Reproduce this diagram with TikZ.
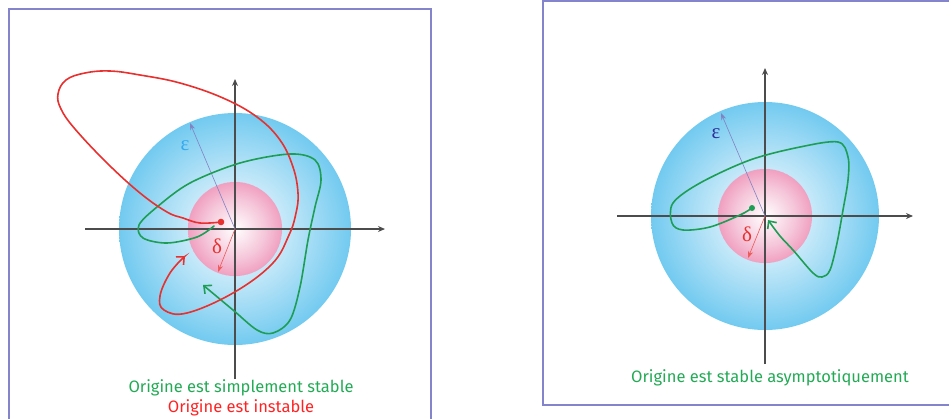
\documentclass[tikz,border=0pt]{standalone}
\usepackage{fontspec}
\usepackage{tikz}
\usetikzlibrary{arrows.meta}

\newfontfamily\captionfont{Fira Sans}
\newfontfamily\greekfont{Liberation Serif}

\definecolor{framecol}{HTML}{8484CC}
\definecolor{skyedge}{HTML}{72CAF0}
\definecolor{skymid}{HTML}{ACDFF6}
\definecolor{pinkedge}{HTML}{F0A0C0}
\definecolor{pinkmid}{HTML}{F5C6D9}
\definecolor{curvegreen}{HTML}{1E9E55}
\definecolor{curvered}{HTML}{E8302E}
\definecolor{textgreen}{HTML}{22AA55}
\definecolor{textred}{HTML}{FF2222}
\definecolor{epsnavy}{HTML}{2E2E9A}
\definecolor{epslight}{HTML}{33AAEE}

\pgfdeclareradialshading{bluesphere}{\pgfpoint{0bp}{0bp}}{%
  color(0bp)=(white); color(3bp)=(white!80!skymid); color(15bp)=(skymid);
  color(25bp)=(skyedge); color(50bp)=(skyedge)}
\pgfdeclareradialshading{pinksphere}{\pgfpoint{0bp}{0bp}}{%
  color(0bp)=(white); color(4bp)=(white!75!pinkmid); color(16bp)=(pinkmid);
  color(25bp)=(pinkedge); color(50bp)=(pinkedge)}

\tikzset{
  frame/.style={draw=framecol, line width=2pt},
  axis/.style={draw=black!70, line width=1.3pt, -{Stealth[length=7pt,width=6pt]}},
  epsarrow/.style={draw=epsnavy!60, line width=0.6pt, -{Stealth[length=7pt,width=5pt]}},
  deltaarrow/.style={draw=curvered!80, line width=0.6pt, -{Stealth[length=7pt,width=5pt]}},
  greeklabel/.style={font=\greekfont\fontsize{21}{23}\selectfont},
  traj/.style={line width=1.6pt, line cap=round},
  trajtip/.style={-{Straight Barb[length=6pt,width=11pt,line width=1.6pt]}},
  caption/.style={font=\captionfont\fontsize{16.5}{19}\selectfont}
}

\begin{document}
\begin{tikzpicture}[x=1pt, y=-1pt, >=stealth]
	\useasboundingbox (0,0) rectangle (949,418);

	% Frames
	\draw[frame] (8.5,9) rectangle (431,440);
	\draw[frame] (543,0.5) rectangle (970,405);

	% ---------- Left panel: simple stability / instability ----------
	\coordinate (O1) at (235,229);
	\shade[shading=bluesphere] (O1) circle[radius=116pt];
	\shade[shading=pinksphere] (O1) circle[radius=47pt];
	\draw[pinkedge, densely dotted, line width=0.4pt] (O1) circle[radius=47pt];

	% Axes
	\coordinate (X1a) at (85,229);
	\coordinate (X1b) at (385,229);
	\coordinate (Y1a) at (235,379);
	\coordinate (Y1b) at (235,79);
	\draw[axis] (X1a) -- (X1b);
	\draw[axis] (Y1a) -- (Y1b);

	% Radii
	\coordinate (E1) at (190,123);
	\coordinate (D1) at (218,272);
	\draw[epsarrow] (O1) -- (E1);
	\draw[deltaarrow] (O1) -- (D1);
	\node[greeklabel, text=epslight] (eps1) at (185,146) {ε};
	\node[greeklabel, text=curvered] (del1) at (217,246) {δ};

	% Green trajectory (stays in the epsilon ball)
	\draw[traj, curvegreen, trajtip] plot[smooth, tension=0.55] coordinates {
		(214,226) (197,237) (167,243) (143,238) (139,225) (157,207) (190,183)
		(240,163) (290,154) (315,160) (321,180) (315,207) (308,240) (300,287)
		(290,320) (273,333) (257,330) (233,310) (203,285)};

	% Red trajectory (leaves the epsilon ball)
	\draw[traj, curvered, trajtip] plot[smooth, tension=0.65] coordinates {
		(221,222) (200,223) (183,218) (167,212) (140,193) (107,163) (75,129)
		(61,109) (58,94) (66,80) (85,73) (110,71) (140,75) (180,83) (223,98)
		(257,117) (280,140) (293,167) (298,193) (296,213) (289,235) (272,264)
		(233,293) (187,313) (164,310) (160,296) (170,273) (185,256)};
	\fill[curvered] (221,222) circle[radius=3.3pt];

	% Captions
	\node[caption, text=textgreen] (cap1) at (241,388) {Origine est simplement stable};
	\node[caption, text=textred] (cap2) at (241,408) {Origine est instable};

	% ---------- Right panel: asymptotic stability ----------
	\coordinate (O2) at (765,216);
	\shade[shading=bluesphere] (O2) circle[radius=114pt];
	\shade[shading=pinksphere] (O2) circle[radius=47pt];
	\draw[pinkedge, densely dotted, line width=0.4pt] (O2) circle[radius=47pt];

	% Axes
	\coordinate (X2a) at (617,216);
	\coordinate (X2b) at (913,216);
	\coordinate (Y2a) at (765,364);
	\coordinate (Y2b) at (765,68);
	\draw[axis] (X2a) -- (X2b);
	\draw[axis] (Y2a) -- (Y2b);

	% Radii
	\coordinate (E2) at (721,113);
	\coordinate (D2) at (748,258);
	\draw[epsarrow] (O2) -- (E2);
	\draw[deltaarrow] (O2) -- (D2);
	\node[greeklabel, text=epsnavy] (eps2) at (716,134) {ε};
	\node[greeklabel, text=curvered] (del2) at (747,234) {δ};

	% Green trajectory (returns to the origin)
	\draw[traj, curvegreen, trajtip] plot[smooth, tension=0.55] coordinates {
		(752,208) (740,215) (710,227) (683,230) (672,223) (673,203) (700,183)
		(750,160) (800,147) (838,142) (848,157) (848,180) (843,210) (837,243)
		(830,270) (822,277) (813,273) (793,250) (780,236) (768,220)};
	\fill[curvegreen] (752,208) circle[radius=3pt];

	% Caption
	\node[caption, text=textgreen] (cap3) at (770,378) {Origine est stable asymptotiquement};

\end{tikzpicture}
\end{document}
